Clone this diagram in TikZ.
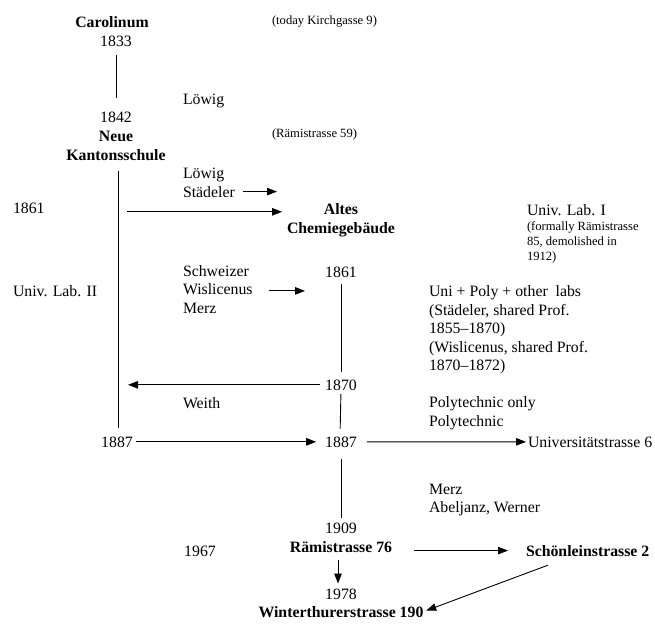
\documentclass[tikz,border=0pt]{standalone}
\usepackage{fontspec}
\setmainfont{Liberation Serif}
\usepackage{tikz}
\usetikzlibrary{arrows.meta,positioning}

\begin{document}
\begin{tikzpicture}[x=1pt, y=-1pt]
    % Define styles
    \tikzstyle{txt} = [inner sep=0pt, outer sep=0pt, font=\fontsize{15.8}{18.6}\selectfont]
    \tikzstyle{place} = [txt, font=\fontsize{15.8}{18.6}\selectfont\bfseries]
    \tikzstyle{note} = [inner sep=0pt, outer sep=0pt, font=\fontsize{12.6}{15}\selectfont]
    \tikzstyle{block} = [txt, align=left, anchor=north west]
    \tikzstyle{arr} = [-{Triangle[length=10pt, width=7.5pt]}, line width=0.9pt]
    \tikzstyle{link} = [line width=0.9pt]

    \useasboundingbox (0,0) rectangle (655,623);

    % Nodes: main column
    \node[place, anchor=base] (carol) at (112,28) {Carolinum};
    \node[txt, anchor=base] (y1833) at (116,47) {1833};
    \node[txt, anchor=base] (y1842) at (116,122) {1842};
    \node[place, align=center, anchor=north] (kanton) at (116,128.5) {\strut Neue\\Kantonsschule};
    \node[txt, anchor=base] (y1887a) at (117,447) {1887};

    % Nodes: middle column
    \node[place, align=center, anchor=north] (altes) at (341,201.5) {\strut Altes\\Chemiegebäude};
    \node[txt, anchor=base] (y1861b) at (341,277) {1861};
    \node[txt, anchor=base] (y1870) at (341,390) {1870};
    \node[txt, anchor=base] (y1887b) at (341,447) {1887};
    \node[txt, anchor=base] (y1909) at (341,533) {1909};
    \node[place, anchor=base] (ram76) at (341,552) {Rämistrasse 76};
    \node[txt, anchor=base] (y1978) at (341,599) {1978};
    \node[place, anchor=base] (winter) at (341,617) {Winterthurerstrasse 190};

    % Nodes: right column
    \node[txt, anchor=base west] (univ6) at (528,447) {Universitätstrasse 6};
    \node[place, anchor=base west] (schon) at (526,556) {Schönleinstrasse 2};

    % Nodes: names
    \node[txt, anchor=base west] (lowigA) at (183,104) {Löwig};
    \node[txt, anchor=base west] (lowigB) at (183,178) {Löwig};
    \node[txt, anchor=base west] (stadeler) at (183,197) {Städeler};
    \node[block] (schw) at (183,263) {\strut Schweizer\\Wislicenus\\Merz\strut};
    \node[txt, anchor=base west] (weith) at (183,408) {Weith};
    \node[block] (unipoly) at (429,283.5) {\strut Uni + Poly + other\ \ labs\\(Städeler, shared Prof.\\1855–1870)\\(Wislicenus, shared Prof.\\1870–1872)};
    \node[block] (poly) at (429,394.5) {\strut Polytechnic only\\Polytechnic};
    \node[block] (merz) at (429,481) {\strut Merz\\Abeljanz, Werner};

    % Nodes: left labels
    \node[txt, anchor=base west] (y1861a) at (13,213) {1861};
    \node[txt, anchor=base west] (lab2) at (13,296) {Univ. Lab. II};
    \node[txt, anchor=base] (y1967) at (200,556) {1967};
    \node[txt, anchor=base west] (lab1) at (527,215) {Univ. Lab. I};
    \node[note, align=left, anchor=north west] (lab1note) at (527,220) {\strut(formally Rämistrasse\\85, demolished in\\1912)};

    % Connections
    \coordinate (stadtip) at (277,192);
    \coordinate (wisltip) at (305,291);
    \coordinate (schonfoot) at ([xshift=22pt, yshift=-9pt]schon.south west);
    \draw[link, shorten <=8pt, shorten >=13pt] (y1833) -- (y1842);
    \draw[link, shorten <=11pt, shorten >=8pt] (kanton.south -| 118,0) -- (y1887a.north -| 118,0);
    \draw[arr, shorten <=8pt] (stadeler.east) -- (stadeler.east -| stadtip);
    \draw[arr, shorten <=9pt, shorten >=5pt] ([yshift=-4pt]y1861a.east -| 118,0) -- ([yshift=-4pt]y1861a.east -| altes.west);
    \draw[arr, shorten <=16pt] (schw.east) -- (schw.east -| wisltip);
    \draw[link, shorten <=7pt, shorten >=7pt] (y1861b) -- (y1870);
    \draw[arr, shorten <=5pt, shorten >=10pt] (y1870.west) -- (y1870.west -| 118,0);
    \draw[link, shorten <=4pt, shorten >=8pt] (y1870.south) -- ([xshift=-1pt]y1887b.north);
    \draw[arr, shorten <=3pt, shorten >=9pt] (y1887a) -- (y1887b);
    \draw[arr, shorten <=10pt, shorten >=2pt] (y1887b) -- (univ6);
    \draw[link, shorten <=12pt, shorten >=4pt] (y1887b.south) -- (y1909.north);
    \draw[arr, shorten <=8pt, shorten >=5pt] (ram76.south -| 338,0) -- (y1978.north -| 338,0);
    \draw[arr, shorten <=22pt, shorten >=18pt] (schon.west -| ram76.east) -- (schon.west);
    \draw[arr, shorten >=3pt] (schonfoot) -- (winter.east);

    % Annotations
    \node[note, anchor=base west] (kirch) at (272,25) {(today Kirchgasse 9)};
    \node[note, anchor=base west] (rami59) at (272,137) {(Rämistrasse 59)};
\end{tikzpicture}
\end{document}
